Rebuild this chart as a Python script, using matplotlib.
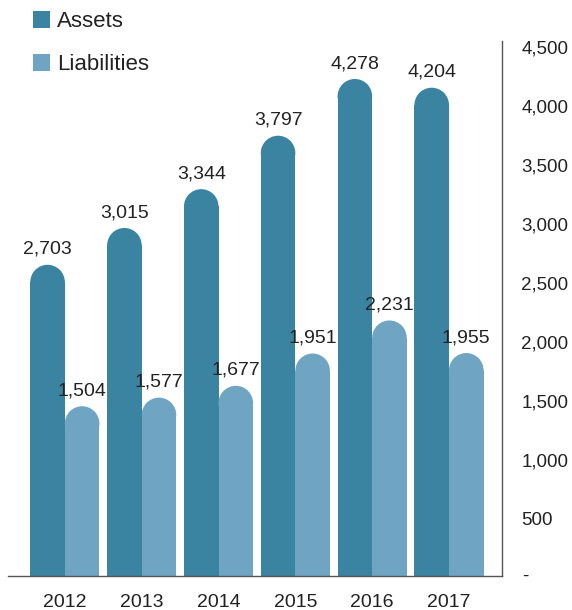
import matplotlib
matplotlib.use("Agg")
import matplotlib.pyplot as plt
from matplotlib.patches import Rectangle, Ellipse, Patch
from matplotlib.transforms import ScaledTranslation
from matplotlib import font_manager

years = ["2012", "2013", "2014", "2015", "2016", "2017"]
assets = [2703, 3015, 3344, 3797, 4278, 4204]
liabilities = [1504, 1577, 1677, 1951, 2231, 1955]
series_names = ["Assets", "Liabilities"]
ytick_values = [500, 1000, 1500, 2000, 2500, 3000, 3500, 4000, 4500]

C_ASSETS = "#3a83a1"
C_LIAB = "#6fa5c3"
TXT = "#222222"

avail = {f.name for f in font_manager.fontManager.ttflist}
fam = [f for f in ["Liberation Sans Narrow", "Liberation Sans", "DejaVu Sans"] if f in avail]
plt.rcParams["font.family"] = fam
FS = 14

W, H = 572, 610
fig = plt.figure(figsize=(W / 100, H / 100), dpi=100)
ax = fig.add_axes([8 / W, (H - 576) / H, 494 / W, 535 / H])

bw = 0.45
ax.set_xlim(-0.74, 5.69)
ax.set_ylim(65, 4600)

# radius of the rounded cap in data units
p0 = ax.transData.transform((0, 0))
p1 = ax.transData.transform((bw / 2, 1000))
half_px = p1[0] - p0[0]
px_per_y = (p1[1] - p0[1]) / 1000
r_y = half_px / px_per_y

def rounded_bar(x, v, color):
    ax.add_patch(Rectangle((x - bw / 2, 0), bw, v - r_y, facecolor=color,
                           edgecolor="none", zorder=2))
    ax.add_patch(Ellipse((x, v - r_y), bw, 2 * r_y, facecolor=color,
                         edgecolor="none", zorder=2))

for i, (a, l) in enumerate(zip(assets, liabilities)):
    xa, xl = i - bw / 2, i + bw / 2
    rounded_bar(xa, a, C_ASSETS)
    rounded_bar(xl, l, C_LIAB)
    ax.annotate(f"{a:,}", (xa, a), xytext=(0, 5), textcoords="offset points",
                ha="center", va="bottom", fontsize=FS, color=TXT)
    ax.annotate(f"{l:,}", (xl, l), xytext=(0, 5), textcoords="offset points",
                ha="center", va="bottom", fontsize=FS, color=TXT)

# axes styling
for s in ["top", "left"]:
    ax.spines[s].set_visible(False)
for s in ["right", "bottom"]:
    ax.spines[s].set_color("#555555")
    ax.spines[s].set_linewidth(1.0)

ax.set_xticks(range(len(years)))
ax.set_xticklabels(years)
ax.tick_params(axis="x", length=0, pad=13, labelsize=FS, labelcolor=TXT)

ax.yaxis.tick_right()
ax.set_yticks(ytick_values)
ax.set_yticklabels([f"{v:,}" for v in ytick_values])
ax.tick_params(axis="y", length=0, pad=14, labelsize=13.5, labelcolor=TXT)
shift = ScaledTranslation(0, 6 / 100, fig.dpi_scale_trans)
for lbl in ax.get_yticklabels():
    lbl.set_transform(lbl.get_transform() + shift)
# zero label shown as a dash at the baseline
ax.text(1.0, 0.0, "-", transform=ax.transAxes + ScaledTranslation(20 / 100, 0, fig.dpi_scale_trans),
        ha="left", va="center", fontsize=13.5, color=TXT)

handles = [Patch(facecolor=C_ASSETS, edgecolor="none"),
           Patch(facecolor=C_LIAB, edgecolor="none")]
leg = fig.legend(handles, series_names, loc="upper left",
                 bbox_to_anchor=(33 / W, 1 - 11 / H), frameon=False,
                 fontsize=16, handlelength=0.77, handleheight=0.77,
                 handletextpad=0.3, labelspacing=1.0, borderaxespad=0,
                 borderpad=0)
for t in leg.get_texts():
    t.set_color(TXT)

fig.savefig("out.png", dpi=100)
